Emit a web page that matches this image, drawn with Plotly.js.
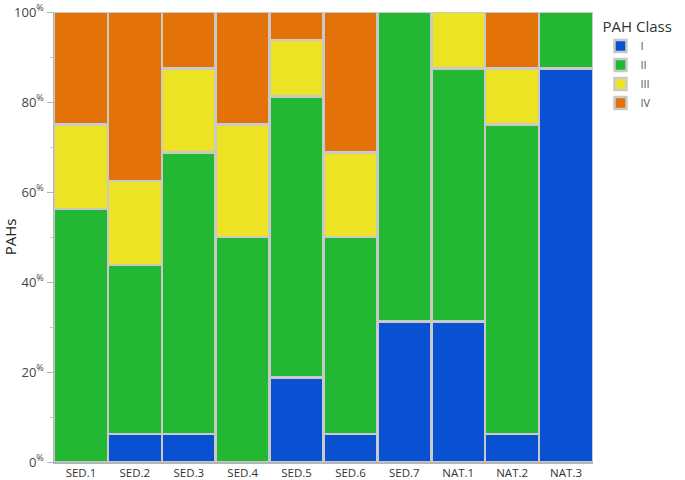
<!DOCTYPE html>
<html>
<head>
<meta charset="utf-8">
<script src="https://cdn.plot.ly/plotly-3.0.1.min.js"></script>
<style>
  body { margin: 0; background: #fff; }
  #chart { width: 685px; height: 480px; }
</style>
</head>
<body>
<div id="chart"></div>
<script>
// samples along the x axis
const samples = ['SED.1', 'SED.2', 'SED.3', 'SED.4', 'SED.5', 'SED.6', 'SED.7', 'NAT.1', 'NAT.2', 'NAT.3'];

// share of PAHs (%) in each class, per sample
const classI   = [0,     6.25,  6.25,  0,     18.75, 6.25,  31.25, 31.25, 6.25,  87.5];
const classII  = [56.25, 37.5,  62.5,  50,    62.5,  43.75, 68.75, 56.25, 68.75, 12.5];
const classIII = [18.75, 18.75, 18.75, 25,    12.5,  18.75, 0,     12.5,  12.5,  0];
const classIV  = [25,    37.5,  12.5,  25,    6.25,  31.25, 0,     0,     12.5,  0];

const classNames = ['I', 'II', 'III', 'IV'];
const yTicks = [0, 20, 40, 60, 80, 100];

const colors = ['#0a50d2', '#22b833', '#ece324', '#e37208'];
const series = [classI, classII, classIII, classIV];

const data = series.map(function (vals, i) {
    return {
        type: 'bar',
        x: samples,
        y: vals,
        name: classNames[i],
        marker: { color: colors[i], line: { color: '#c9c9c9', width: 2.5 } },
        hoverinfo: 'x+y+name'
    };
});

const layout = {
    width: 685,
    height: 480,
    margin: { l: 54, r: 91, t: 12, b: 18 },
    paper_bgcolor: '#fff',
    plot_bgcolor: '#fff',
    barmode: 'stack',
    bargap: 0,
    font: { family: 'Open Sans, Noto Sans, sans-serif', color: '#444', size: 12 },
    xaxis: {
        showgrid: false,
        showline: true,
        linecolor: '#b4b4b4',
        linewidth: 1.5,
        ticks: '',
        tickfont: { size: 11.5, color: '#333' },
        zeroline: false
    },
    yaxis: {
        range: [0, 100],
        showgrid: false,
        showline: true,
        linecolor: '#b4b4b4',
        linewidth: 1.5,
        zeroline: false,
        ticks: 'outside',
        ticklen: 6,
        tickcolor: '#b4b4b4',
        tickvals: yTicks,
        ticktext: yTicks.map(function (v) { return v + '<sup>%</sup>'; }),
        tickfont: { size: 13, color: '#444' },
        minor: { ticks: 'outside', ticklen: 3, tickcolor: '#c8c8c8', dtick: 10 },
        title: { text: 'PAHs', font: { size: 15, color: '#222' }, standoff: 12 }
    },
    legend: {
        x: 1.012,
        xanchor: 'left',
        y: 1.0,
        yanchor: 'top',
        traceorder: 'normal',
        title: { text: 'PAH Class', font: { size: 15, color: '#333' } },
        font: { size: 11, color: '#555' },
        tracegroupgap: 0,
        itemwidth: 30
    },
    showlegend: true
};

Plotly.newPlot('chart', data, layout, { displayModeBar: false, staticPlot: true });
</script>
</body>
</html>
